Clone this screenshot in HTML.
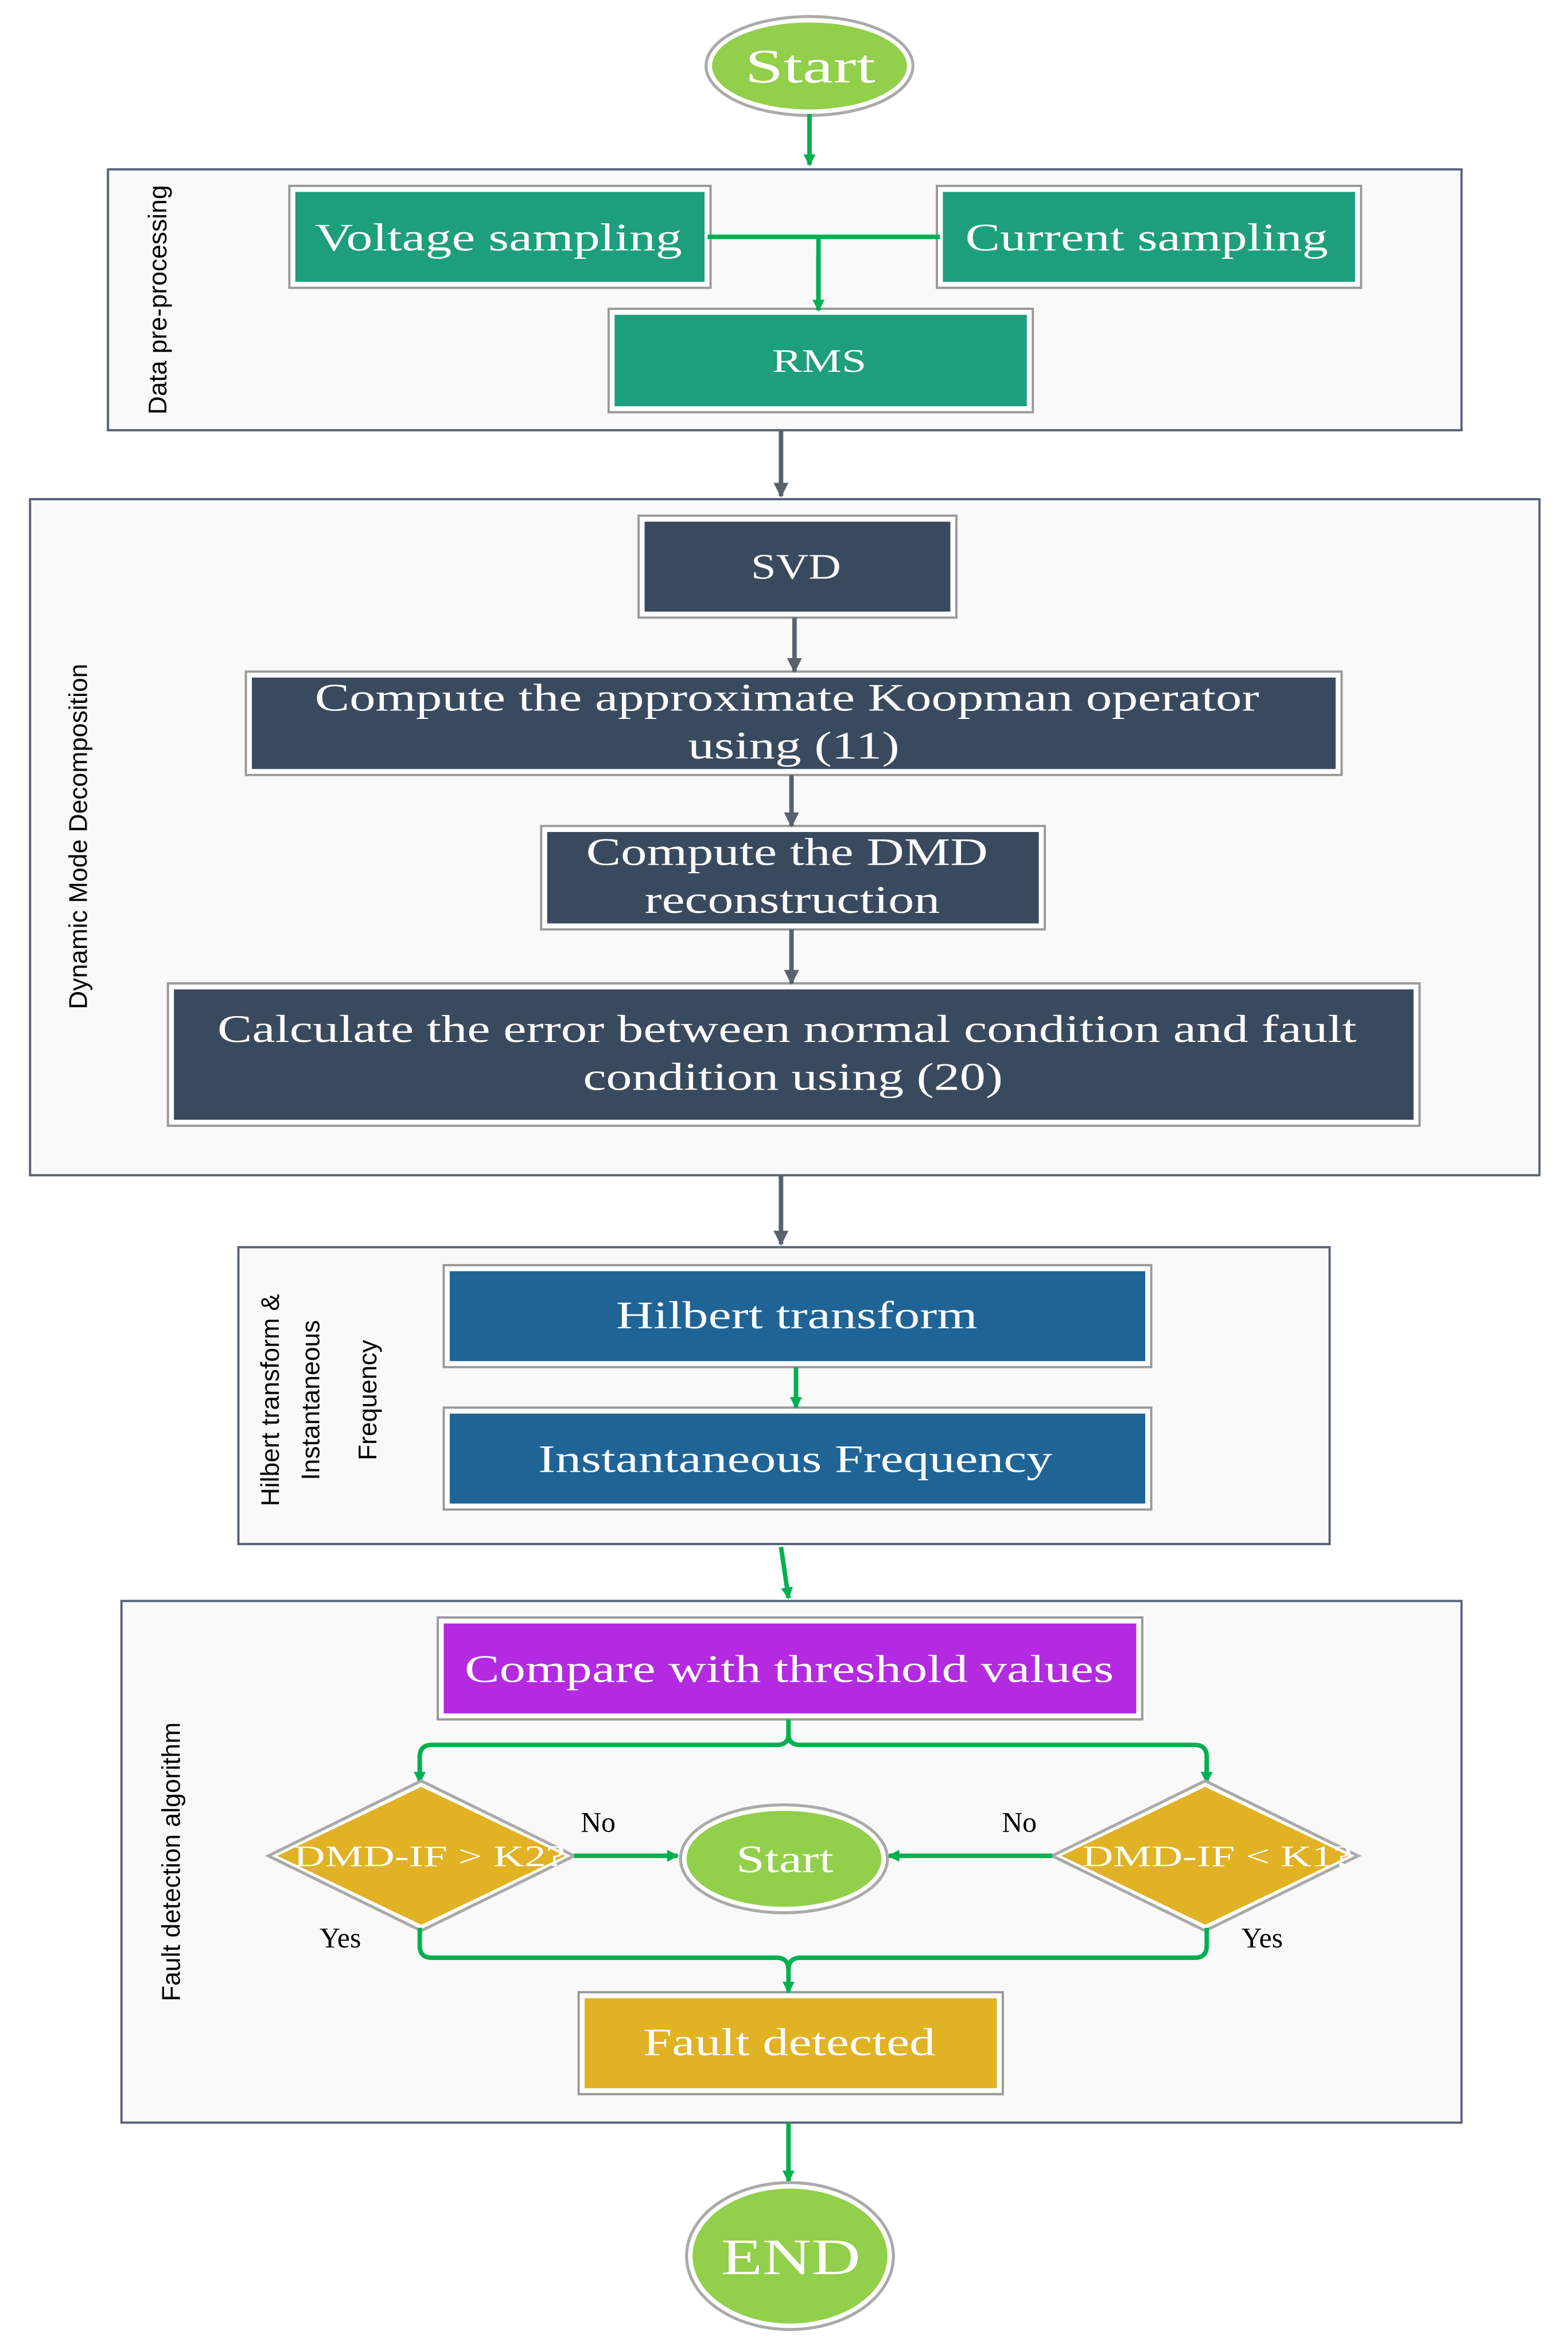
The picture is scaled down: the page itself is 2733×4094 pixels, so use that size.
<!DOCTYPE html>
<html><head><meta charset="utf-8"><style>
html,body{margin:0;padding:0;background:#fff;}
svg{display:block;}
.t{font-family:"Liberation Serif",serif;fill:#fff;text-anchor:middle;}
.l{font-family:"Liberation Sans",sans-serif;fill:#000;text-anchor:middle;}
</style></head><body>
<svg width="2733" height="4094" viewBox="0 0 1046 1567" xmlns="http://www.w3.org/2000/svg">
<defs>
<marker id="ag" markerWidth="8" markerHeight="8" refX="7" refY="4" orient="auto" markerUnits="userSpaceOnUse"><path d="M0,0 L8,4 L0,8 z" fill="#00b050"/></marker>
<marker id="ay" markerWidth="10" markerHeight="10" refX="9" refY="5" orient="auto" markerUnits="userSpaceOnUse"><path d="M0,0 L10,5 L0,10 z" fill="#59606e"/></marker>
</defs>
<rect width="1046" height="1567" fill="#fff"/>
<rect x="72" y="113" width="903" height="174" fill="#f9f9f9" stroke="#5a6078" stroke-width="1.5"/>
<rect x="20" y="333" width="1007" height="451" fill="#f9f9f9" stroke="#5a6078" stroke-width="1.5"/>
<rect x="159" y="832" width="728" height="198" fill="#f9f9f9" stroke="#5a6078" stroke-width="1.5"/>
<rect x="81" y="1068" width="894" height="348" fill="#f9f9f9" stroke="#5a6078" stroke-width="1.5"/>
<text class="l" font-size="17" transform="translate(111,200) rotate(-90)">Data pre-processing</text>
<text class="l" font-size="17" transform="translate(58,558) rotate(-90)">Dynamic Mode Decomposition</text>
<text class="l" font-size="17" transform="translate(186,934) rotate(-90)">Hilbert transform &amp;</text>
<text class="l" font-size="17" transform="translate(213,934) rotate(-90)">Instantaneous</text>
<text class="l" font-size="17" transform="translate(251,934) rotate(-90)">Frequency</text>
<text class="l" font-size="17" transform="translate(120,1242) rotate(-90)">Fault detection algorithm</text>
<ellipse cx="540" cy="44" rx="69" ry="33" fill="#fff" stroke="#aaa" stroke-width="2"/>
<ellipse cx="540" cy="44" rx="65" ry="29" fill="#92cf4a"/>
<text class="t" x="540.5" y="55" font-size="32" textLength="87" lengthAdjust="spacingAndGlyphs">Start</text>
<line x1="540" y1="76" x2="540" y2="110" stroke="#00b050" stroke-width="3" marker-end="url(#ag)"/>
<g stroke="#999" stroke-width="1.5" fill="#fff">
<rect x="193" y="124" width="281" height="68"/>
<rect x="625" y="124" width="283" height="68"/>
<rect x="406" y="206" width="283" height="69"/>
<rect x="426" y="344" width="212" height="68"/>
<rect x="164" y="448" width="731" height="69"/>
<rect x="361" y="551" width="336" height="69"/>
<rect x="112" y="656" width="835" height="95"/>
<rect x="296" y="844" width="472" height="68"/>
<rect x="296" y="939" width="472" height="68"/>
<rect x="292" y="1079" width="470" height="68"/>
<rect x="386" y="1329" width="283" height="68"/>
</g>
<rect x="197" y="128" width="273" height="60" fill="#1d9e7c"/>
<rect x="629" y="128" width="275" height="60" fill="#1d9e7c"/>
<rect x="410" y="210" width="275" height="61" fill="#1d9e7c"/>
<rect x="430" y="348" width="204" height="60" fill="#3a4a5e"/>
<rect x="168" y="452" width="723" height="61" fill="#3a4a5e"/>
<rect x="365" y="555" width="328" height="61" fill="#3a4a5e"/>
<rect x="116" y="660" width="827" height="87" fill="#3a4a5e"/>
<rect x="300" y="848" width="464" height="60" fill="#206496"/>
<rect x="300" y="943" width="464" height="60" fill="#206496"/>
<rect x="296" y="1083" width="462" height="60" fill="#b42ae0"/>
<rect x="390" y="1333" width="275" height="60" fill="#e0b224"/>
<text class="t" x="332.5" y="167" font-size="26" textLength="245" lengthAdjust="spacingAndGlyphs">Voltage sampling</text>
<text class="t" x="765" y="167" font-size="26" textLength="242" lengthAdjust="spacingAndGlyphs">Current sampling</text>
<text class="t" x="546.5" y="248" font-size="22" textLength="63" lengthAdjust="spacingAndGlyphs">RMS</text>
<text class="t" x="531" y="386" font-size="24" textLength="60" lengthAdjust="spacingAndGlyphs">SVD</text>
<text class="t" x="525" y="474" font-size="26" textLength="630" lengthAdjust="spacingAndGlyphs">Compute the approximate Koopman operator</text>
<text class="t" x="529.5" y="506" font-size="26" textLength="141" lengthAdjust="spacingAndGlyphs">using (11)</text>
<text class="t" x="525" y="577" font-size="26" textLength="268" lengthAdjust="spacingAndGlyphs">Compute the DMD</text>
<text class="t" x="528.5" y="609" font-size="26" textLength="197" lengthAdjust="spacingAndGlyphs">reconstruction</text>
<text class="t" x="525" y="695" font-size="26" textLength="760" lengthAdjust="spacingAndGlyphs">Calculate the error between normal condition and fault</text>
<text class="t" x="529" y="727" font-size="26" textLength="280" lengthAdjust="spacingAndGlyphs">condition using (20)</text>
<text class="t" x="531.5" y="886" font-size="26" textLength="241" lengthAdjust="spacingAndGlyphs">Hilbert transform</text>
<text class="t" x="530.5" y="982" font-size="26" textLength="343" lengthAdjust="spacingAndGlyphs">Instantaneous Frequency</text>
<text class="t" x="526.5" y="1122" font-size="26" textLength="433" lengthAdjust="spacingAndGlyphs">Compare with threshold values</text>
<text class="t" x="526.5" y="1371" font-size="26" textLength="195" lengthAdjust="spacingAndGlyphs">Fault detected</text>
<path d="M472,158 H627 M546,158 V206" stroke="#00b050" stroke-width="3" fill="none"/>
<line x1="546" y1="170" x2="546" y2="207" stroke="#00b050" stroke-width="3" marker-end="url(#ag)"/>
<line x1="521" y1="287" x2="521" y2="331" stroke="#59606e" stroke-width="3" marker-end="url(#ay)"/>
<line x1="530" y1="412" x2="530" y2="448" stroke="#59606e" stroke-width="3" marker-end="url(#ay)"/>
<line x1="528" y1="517" x2="528" y2="551" stroke="#59606e" stroke-width="3" marker-end="url(#ay)"/>
<line x1="528" y1="620" x2="528" y2="656" stroke="#59606e" stroke-width="3" marker-end="url(#ay)"/>
<line x1="521" y1="784" x2="521" y2="830" stroke="#59606e" stroke-width="3" marker-end="url(#ay)"/>
<line x1="531" y1="912" x2="531" y2="939" stroke="#00b050" stroke-width="3" marker-end="url(#ag)"/>
<line x1="521" y1="1032" x2="526" y2="1066" stroke="#00b050" stroke-width="3" marker-end="url(#ag)"/>
<path d="M526,1147 V1157 Q526,1164 518,1164 H288 Q280,1164 280,1172 V1188 M526,1157 Q526,1164 534,1164 H797 Q805,1164 805,1172 V1188" stroke="#00b050" stroke-width="3" fill="none"/>
<line x1="280" y1="1175" x2="280" y2="1189" stroke="#00b050" stroke-width="3" marker-end="url(#ag)"/>
<line x1="805" y1="1175" x2="805" y2="1189" stroke="#00b050" stroke-width="3" marker-end="url(#ag)"/>
<polygon points="281,1188 383,1238 281,1288 179,1238" fill="#fff" stroke="#aaa" stroke-width="2"/>
<polygon points="281,1192 377,1238 281,1284 185,1238" fill="#e0b224"/>
<polygon points="804,1188 906,1238 804,1288 702,1238" fill="#fff" stroke="#aaa" stroke-width="2"/>
<polygon points="804,1192 900,1238 804,1284 708,1238" fill="#e0b224"/>
<text class="t" x="286.5" y="1245" font-size="20" textLength="181" lengthAdjust="spacingAndGlyphs">DMD-IF &gt; K2?</text>
<text class="t" x="812" y="1245" font-size="20" textLength="180" lengthAdjust="spacingAndGlyphs">DMD-IF &lt; K1?</text>
<ellipse cx="523" cy="1240" rx="69" ry="36" fill="#fff" stroke="#aaa" stroke-width="2"/>
<ellipse cx="523" cy="1240" rx="65" ry="32" fill="#92cf4a"/>
<text class="t" x="523.5" y="1249" font-size="26" textLength="65" lengthAdjust="spacingAndGlyphs">Start</text>
<line x1="383" y1="1238" x2="452" y2="1238" stroke="#00b050" stroke-width="3" marker-end="url(#ag)"/>
<line x1="702" y1="1238" x2="593" y2="1238" stroke="#00b050" stroke-width="3" marker-end="url(#ag)"/>
<text x="399" y="1222" font-size="19" font-family="Liberation Serif,serif" text-anchor="middle">No</text>
<text x="680" y="1222" font-size="19" font-family="Liberation Serif,serif" text-anchor="middle">No</text>
<text x="227" y="1299" font-size="19" font-family="Liberation Serif,serif" text-anchor="middle">Yes</text>
<text x="842" y="1299" font-size="19" font-family="Liberation Serif,serif" text-anchor="middle">Yes</text>
<path d="M280,1286 V1298 Q280,1306 288,1306 H518 Q526,1306 526,1314 M526,1314 Q526,1306 534,1306 H797 Q805,1306 805,1298 V1286" stroke="#00b050" stroke-width="3" fill="none"/>
<line x1="526" y1="1310" x2="526" y2="1329" stroke="#00b050" stroke-width="3" marker-end="url(#ag)"/>
<line x1="526" y1="1416" x2="526" y2="1455" stroke="#00b050" stroke-width="3" marker-end="url(#ag)"/>
<ellipse cx="527" cy="1505" rx="69" ry="49" fill="#fff" stroke="#aaa" stroke-width="2"/>
<ellipse cx="527" cy="1505" rx="65" ry="45" fill="#92cf4a"/>
<text class="t" x="527.5" y="1517" font-size="34" textLength="93" lengthAdjust="spacingAndGlyphs">END</text>
</svg>
</body></html>
